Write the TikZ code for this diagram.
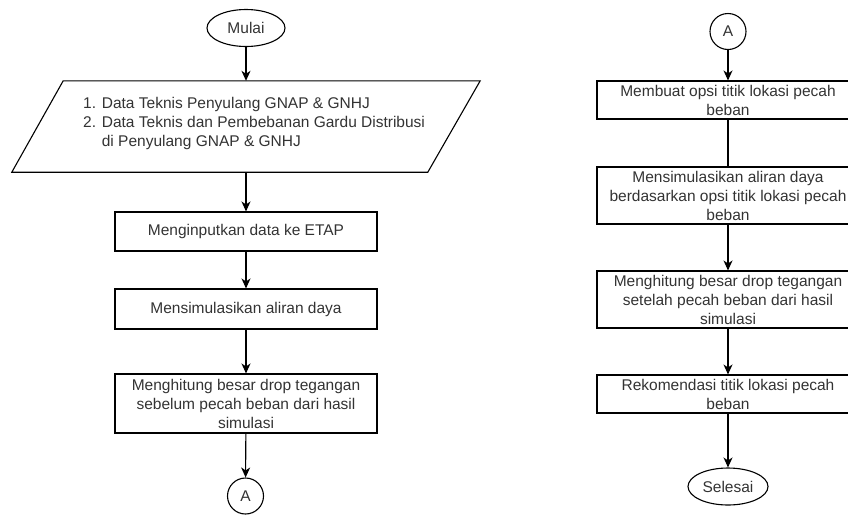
\documentclass[tikz,border=0pt]{standalone}
\usepackage{fontspec}
\setmainfont{Liberation Sans}
\usetikzlibrary{shapes.geometric,arrows.meta}
\definecolor{txt}{HTML}{333333}
\tikzset{
  every node/.style={font=\fontsize{15.5}{19}\selectfont, text=txt},
  procbox/.style={draw=black, line width=1.1pt, rectangle, minimum width=262pt, align=center, inner sep=0pt},
  term/.style={draw=black, line width=1.1pt, ellipse, inner sep=0pt},
  conn/.style={draw=black, line width=1.1pt, circle, inner sep=0pt, minimum size=36pt},
  flow/.style={draw=black, line width=1.1pt, -{Stealth[length=10pt,width=9pt,inset=3pt]}},
  plain/.style={draw=black, line width=1.1pt}
}
\begin{document}
\begin{tikzpicture}[x=1pt,y=-1pt]
\useasboundingbox (0,0) rectangle (848,515);
\clip (0,0) rectangle (848,515);
% left column
\node[term, minimum width=78pt, minimum height=37pt] (mulai) at (246,28) {Mulai};
\node[rectangle, minimum width=468pt, minimum height=91pt, inner sep=0pt] (para) at (246,126.5) {};
\draw[line width=1.1pt] (para.south west) -- ++(416,0) -- (para.north east) -- ++(-417,0) -- cycle;
\node[anchor=west, align=left, inner sep=0pt] (paratext) at (83,123.5)
  {1. Data Teknis Penyulang GNAP \& GNHJ\\
   2. Data Teknis dan Pembebanan Gardu Distribusi\\
   \phantom{2. }di Penyulang GNAP \& GNHJ};
\node[procbox, minimum height=39pt] (b1) at (246,231.5) {Menginputkan data ke ETAP};
\node[procbox, minimum height=40pt] (b2) at (246,309) {Mensimulasikan aliran daya};
\node[procbox, minimum height=59pt] (b3) at (246,403.5) {Menghitung besar drop tegangan\\sebelum pecah beban dari hasil\\simulasi};
\node[conn] (a1) at (245.5,496) {A};
\draw[flow] (mulai) -- (para.north);
\draw[flow] (para.south) -- (b1);
\draw[flow] (b1) -- (b2);
\draw[flow] (b2) -- (b3);
\draw[flow] (b3) -- (a1);
% right column
\node[conn] (a2) at (728,31.5) {A};
\node[procbox, minimum height=38pt] (r1) at (728,100) {Membuat opsi titik lokasi pecah\\beban};
\node[procbox, minimum height=57pt] (r2) at (728,195.5) {Mensimulasikan aliran daya\\berdasarkan opsi titik lokasi pecah\\beban};
\node[procbox, minimum height=57pt] (r3) at (728,299.5) {Menghitung besar drop tegangan\\setelah pecah beban dari hasil\\simulasi};
\node[procbox, minimum height=38pt] (r4) at (728,394) {Rekomendasi titik lokasi pecah\\beban};
\node[term, minimum width=80pt, minimum height=37pt] (selesai) at (728,486.5) {Selesai};
\draw[flow] (a2) -- (r1);
\draw[plain] (r1) -- (r2);
\draw[flow] (r2) -- (r3);
\draw[flow] (r3) -- (r4);
\draw[flow] (r4) -- (selesai);
\end{tikzpicture}
\end{document}
